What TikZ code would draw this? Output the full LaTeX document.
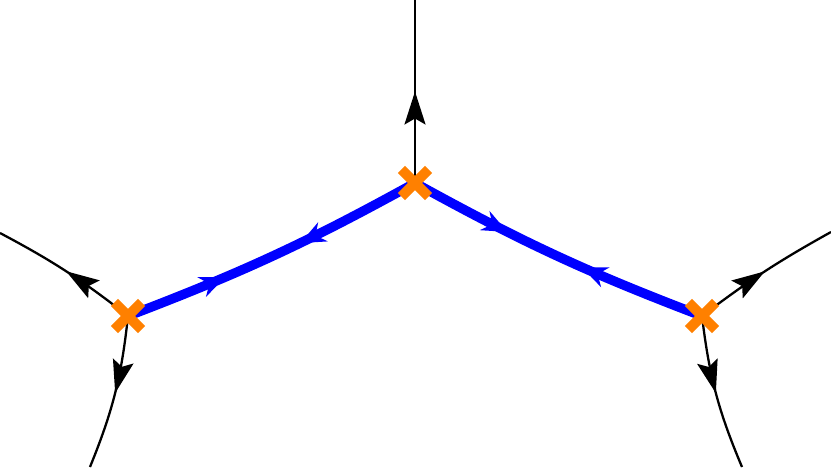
\documentclass[tikz,border=0pt]{standalone}
\usetikzlibrary{arrows.meta,decorations.markings,shapes.misc,backgrounds}
\definecolor{vertorange}{RGB}{255,128,0}
\tikzset{
    vertex/.style={cross out,draw=vertorange,line width=5.8pt,minimum size=0.34cm,inner sep=0pt},
    leg/.style={line width=1.3pt,postaction={decorate},
        decoration={markings,mark=at position 0.5 with {\arrow{Stealth[length=0.66cm,width=0.42cm,inset=0.12cm]}}}},
    prop/.style={line width=5.4pt,blue,postaction={decorate},
        decoration={markings,
            mark=at position 0.33 with {\arrow{Stealth[length=0.5cm,width=0.42cm]}},
            mark=at position 0.67 with {\arrow{Stealth[length=0.5cm,width=0.42cm,reversed]}}}}
}
\begin{document}
\begin{tikzpicture}
    \useasboundingbox (0,0) rectangle (16.62,9.34);
    %% Vertices
    \node[vertex] (C) at (8.30,5.68) {};
    \node[vertex] (L) at (2.56,3.02) {};
    \node[vertex] (R) at (14.04,3.02) {};
    %% Free ends of the external legs
    \coordinate (Ctop) at (8.30,9.34);
    \coordinate (Lup) at (0,4.68);
    \coordinate (Ldown) at (1.80,0);
    \coordinate (Rup) at (16.62,4.70);
    \coordinate (Rdown) at (14.84,0);
    \begin{scope}[on background layer]
        %% External legs
        \draw[leg] (C.center) -- (Ctop);
        \draw[leg] (L.center) to[bend right=5] (Lup);
        \draw[leg] (L.center) to[bend left=8] (Ldown);
        \draw[leg] (R.center) to[bend left=4] (Rup);
        \draw[leg] (R.center) to[bend right=8] (Rdown);
        %% Internal lines
        \draw[prop] (L.center) to[bend right=4] (C.center);
        \draw[prop] (C.center) to[bend right=4] (R.center);
    \end{scope}
\end{tikzpicture}
\end{document}
